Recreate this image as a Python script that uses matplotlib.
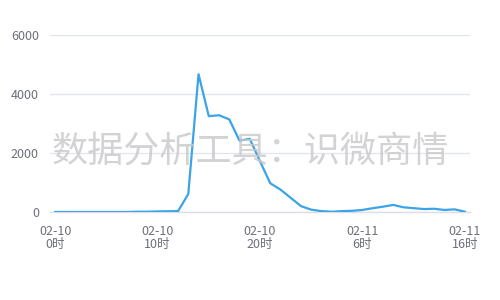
import matplotlib
matplotlib.use("Agg")
import matplotlib.pyplot as plt

plt.rcParams['font.family'] = ['Noto Sans CJK SC', 'DejaVu Sans']

hours = list(range(41))
values = [0, 0, 0, 0, 0, 0, 0, 0, 10, 10, 20, 25, 30, 610, 4670, 3250, 3280, 3140, 2420, 2480,
          1720, 975, 760, 480, 200, 80, 30, 10, 30, 40, 70, 130, 180, 240, 160, 130, 100, 110, 70, 90, 10]
tick_pos = [0, 10, 20, 30, 40]
tick_labels = ["02-10\n0时", "02-10\n10时", "02-10\n20时", "02-11\n6时", "02-11\n16时"]
y_ticks = [0, 2000, 4000, 6000]
watermark = "数据分析工具：识微商情"

fig = plt.figure(figsize=(5, 3), dpi=100)
ax = fig.add_axes([0.1, 0.2933, 0.84, 0.59])
ax.plot(hours, values, color='#3ba4e6', linewidth=1.6, zorder=3, solid_joinstyle='round')
ax.set_xlim(-0.5, 40.5)
ax.set_ylim(0, 6000)
ax.set_yticks(y_ticks)
ax.set_yticklabels([str(v) for v in y_ticks])
ax.set_xticks(tick_pos)
ax.set_xticklabels(tick_labels, linespacing=1.0)
for s in ['top', 'right', 'left']:
    ax.spines[s].set_visible(False)
ax.spines['bottom'].set_color('#dcdfe8')
ax.spines['bottom'].set_linewidth(1)
ax.grid(axis='y', color='#e0e6f1', linewidth=0.9, zorder=0)
ax.set_axisbelow(True)
ax.tick_params(axis='both', length=0, colors='#6e7079', labelsize=9)
ax.tick_params(axis='y', pad=8)
ax.tick_params(axis='x', pad=9)
fig.text(0.5, 0.493, watermark, ha='center', va='center', fontsize=26,
         color='#c8c8c8', alpha=0.8, zorder=2)
fig.savefig('out.png', dpi=100)
